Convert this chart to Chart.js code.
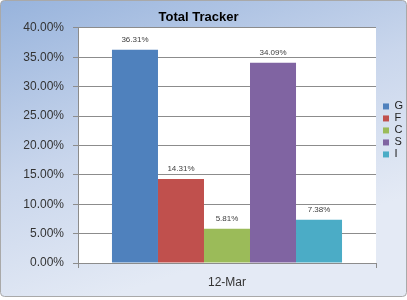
<!DOCTYPE html>
<html>
<head>
<meta charset="utf-8">
<script src="https://cdn.jsdelivr.net/npm/chart.js@4"></script>
<style>
  html, body { margin: 0; padding: 0; background: #fff; }
  #wrap { width: 407px; height: 300px; }
</style>
</head>
<body>
<div id="wrap"><canvas id="trackerChart" width="407" height="300"></canvas></div>
<script>
// data
const periods = ['12-Mar'];
const seriesNames = ['G', 'F', 'C', 'S', 'I'];
const seriesValues = [36.31, 14.31, 5.81, 34.09, 7.38];
const seriesColors = ['#4f81bd', '#c0504d', '#9bbb59', '#8064a2', '#4bacc6'];
const yTicks = [0, 5, 10, 15, 20, 25, 30, 35, 40];

const pct = v => Number(v).toFixed(2) + '%';

// background gradient + white plot area
const backdrop = {
    id: 'backdrop',
    beforeDraw(chart) {
        const ctx = chart.ctx;
        const w = chart.width, h = chart.height;
        ctx.save();
        const g = ctx.createLinearGradient(0, 0, w * 0.25, h);
        g.addColorStop(0, '#97b3dc');
        g.addColorStop(0.55, '#c9d6ec');
        g.addColorStop(1, '#e4eaf5');
        ctx.fillStyle = g;
        ctx.beginPath();
        ctx.roundRect(0.5, 0.5, w - 1, h - 4, 4);
        ctx.fill();
        ctx.strokeStyle = '#a9a9a9';
        ctx.lineWidth = 1;
        ctx.stroke();
        const a = chart.chartArea;
        ctx.fillStyle = '#ffffff';
        ctx.fillRect(a.left, a.top, a.right - a.left, a.bottom - a.top);
        ctx.restore();
    }
};

// value labels above each bar
const barLabels = {
    id: 'barLabels',
    afterDatasetsDraw(chart) {
        const ctx = chart.ctx;
        ctx.save();
        ctx.font = '8px "Liberation Sans", Arial, sans-serif';
        ctx.fillStyle = '#404040';
        ctx.textAlign = 'center';
        ctx.textBaseline = 'middle';
        chart.data.datasets.forEach((ds, i) => {
            chart.getDatasetMeta(i).data.forEach((bar, j) => {
                ctx.fillText(pct(ds.data[j]), bar.x, bar.y - 10);
            });
        });
        ctx.restore();
    }
};

// move legend next to the plot, like the excel layout
const legendPlace = {
    id: 'legendPlace',
    afterLayout(chart) {
        const lg = chart.legend;
        const a = chart.chartArea;
        const dx = a.right + 6 - lg.left;
        lg.left += dx;
        lg.right += dx;
        lg.top = a.top + 72;
    }
};

const datasets = seriesNames.map((name, i) => ({
    label: name,
    data: [seriesValues[i]],
    backgroundColor: seriesColors[i],
    borderWidth: 0
}));

Chart.defaults.font.family = '"Liberation Sans", Arial, sans-serif';
Chart.defaults.color = '#333333';

new Chart(document.getElementById('trackerChart'), {
    type: 'bar',
    data: { labels: periods, datasets: datasets },
    options: {
        responsive: false,
        animation: false,
        layout: { padding: { right: 10, bottom: 0, top: 0, left: 0 } },
        datasets: { bar: { categoryPercentage: 0.772, barPercentage: 1 } },
        plugins: {
            title: {
                display: true,
                text: 'Total Tracker',
                color: '#000000',
                font: { size: 13, weight: 'bold', lineHeight: 1.15 },
                padding: { top: 10, bottom: 3 }
            },
            legend: {
                position: 'right',
                align: 'start',
                fullSize: false,
                maxWidth: 21,
                labels: {
                    boxWidth: 6,
                    boxHeight: 6,
                    padding: 1,
                    color: '#222222',
                    font: { size: 11 }
                }
            },
            tooltip: { enabled: false }
        },
        scales: {
            x: {
                grid: {
                    offset: true,
                    drawOnChartArea: false,
                    drawTicks: true,
                    tickLength: 5,
                    color: '#8c8c8c'
                },
                border: { color: '#8c8c8c' },
                ticks: { font: { size: 12 }, padding: 7, color: '#333333' },
                afterFit(scale) { scale.height = 37; }
            },
            y: {
                min: 0,
                max: 40,
                afterBuildTicks(scale) {
                    scale.ticks = yTicks.map(v => ({ value: v }));
                },
                grid: { color: '#8c8c8c', tickLength: 5 },
                border: { color: '#8c8c8c' },
                ticks: {
                    font: { size: 12 },
                    padding: 9,
                    color: '#333333',
                    callback: v => pct(v)
                },
                afterFit(scale) { scale.width = 78; }
            }
        }
    },
    plugins: [backdrop, barLabels, legendPlace]
});
</script>
</body>
</html>
